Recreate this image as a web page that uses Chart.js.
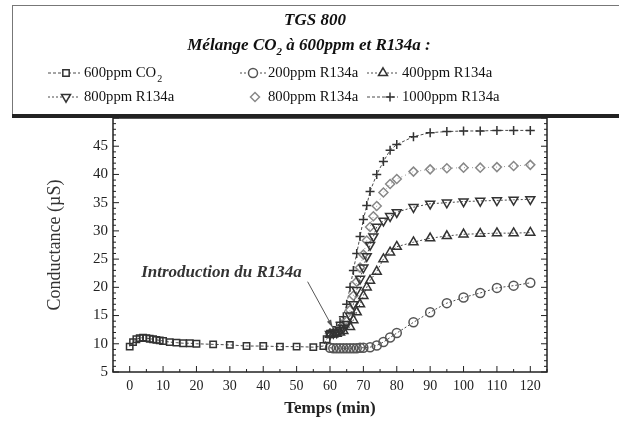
<!DOCTYPE html>
<html>
<head>
<meta charset="utf-8">
<script src="https://cdn.jsdelivr.net/npm/chart.js"></script>
<style>
  html, body { margin: 0; padding: 0; background: #fff; }
  #wrap { width: 619px; height: 423px; position: relative; }
</style>
</head>
<body>
<div id="wrap"><canvas id="tgsChart" width="619" height="423"></canvas></div>
<script>
// Temps (min) et conductance (µS)
const tCO2 = [0, 1, 2, 3, 4, 5, 6, 7, 8, 9, 10, 12, 14, 16, 18, 20, 25, 30, 35, 40, 45, 50, 55, 58, 59, 60];
const gCO2 = [9.5, 10.3, 10.8, 11.0, 11.1, 11.0, 10.9, 10.8, 10.7, 10.6, 10.5, 10.3, 10.2, 10.1, 10.1, 10.0, 9.9, 9.8, 9.6, 9.6, 9.5, 9.5, 9.4, 9.6, 10.8, 11.8];

const t200 = [60, 61, 62, 63, 64, 65, 66, 67, 68, 69, 70, 72, 74, 76, 78, 80, 85, 90, 95, 100, 105, 110, 115, 120];
const g200 = [9.3, 9.2, 9.2, 9.2, 9.2, 9.2, 9.2, 9.2, 9.2, 9.3, 9.3, 9.4, 9.7, 10.3, 11.1, 11.9, 13.8, 15.6, 17.2, 18.2, 19.0, 19.9, 20.3, 20.8];

const t400 = [60, 61, 62, 63, 64, 66, 67, 68, 69, 70, 71, 72, 74, 76, 78, 80, 85, 90, 95, 100, 105, 110, 115, 120];
const g400 = [11.6, 11.7, 11.8, 12.0, 12.3, 13.0, 14.2, 15.6, 17.0, 18.5, 20.0, 21.2, 22.8, 25.0, 26.2, 27.2, 28.0, 28.7, 29.1, 29.4, 29.5, 29.6, 29.6, 29.7];

const t800a = [60, 61, 62, 63, 64, 65, 66, 67, 68, 69, 70, 71, 72, 73, 74, 76, 78, 80, 85, 90, 95, 100, 105, 110, 115, 120];
const g800a = [11.7, 11.9, 12.0, 12.4, 12.8, 13.5, 15.0, 17.0, 19.5, 21.5, 23.5, 25.5, 27.5, 29.0, 30.7, 31.8, 32.6, 33.3, 34.2, 34.8, 35.0, 35.2, 35.3, 35.4, 35.5, 35.6];

const t800b = [60, 61, 62, 63, 64, 65, 66, 67, 68, 69, 70, 71, 72, 73, 74, 76, 78, 80, 85, 90, 95, 100, 105, 110, 115, 120];
const g800b = [11.8, 12.0, 12.2, 12.6, 13.0, 14.0, 16.0, 18.5, 21.0, 23.5, 25.8, 28.3, 30.7, 32.6, 34.4, 36.8, 38.3, 39.2, 40.5, 40.9, 41.1, 41.2, 41.2, 41.3, 41.5, 41.7];

const t1000 = [60, 61, 62, 63, 64, 65, 66, 67, 68, 69, 70, 71, 72, 74, 76, 78, 80, 85, 90, 95, 100, 105, 110, 115, 120];
const g1000 = [11.9, 12.3, 13.0, 13.8, 14.8, 17.0, 20.0, 23.0, 26.0, 29.0, 32.0, 34.5, 37.0, 40.0, 42.3, 44.3, 45.3, 46.7, 47.4, 47.6, 47.7, 47.7, 47.8, 47.8, 47.8];

const seriesLabels = ['600ppm CO₂', '200ppm R134a', '400ppm R134a', '800ppm R134a', '800ppm R134a', '1000ppm R134a'];
const xTicks = [0, 10, 20, 30, 40, 50, 60, 70, 80, 90, 100, 110, 120];
const yTicks = [5, 10, 15, 20, 25, 30, 35, 40, 45];

const ink = '#4a4a4a';
const serif = "'Liberation Serif', 'DejaVu Serif', serif";

function pts(t, g) {
    return t.map((x, i) => ({ x: x, y: g[i] }));
}

function serie(label, t, g, style, rot, dash) {
    return {
        label: label,
        data: pts(t, g),
        borderColor: ink,
        backgroundColor: 'rgba(0,0,0,0)',
        borderWidth: 1,
        borderDash: dash,
        pointStyle: style,
        pointRotation: rot,
        pointRadius: style === 'triangle' ? 5.2 : 4.5,
        pointBorderWidth: 1.5,
        pointBorderColor: '#333',
        showLine: true,
        tension: 0
    };
}

const datasets = [
    serie(seriesLabels[0], tCO2, gCO2, 'rect', 0, [3, 2]),
    serie(seriesLabels[1], t200, g200, 'circle', 0, [2, 2]),
    serie(seriesLabels[2], t400, g400, 'triangle', 0, [2, 2]),
    serie(seriesLabels[3], t800a, g800a, 'triangle', 180, [2, 2]),
    serie(seriesLabels[4], t800b, g800b, 'rectRot', 0, [1, 3]),
    serie(seriesLabels[5], t1000, g1000, 'cross', 0, [3, 2])
];
datasets[4].borderColor = '#999';
datasets[4].pointBorderColor = '#888';
datasets[1].pointBorderColor = '#555';

// cadre, graduations internes, boite de legende et annotation
const decor = {
    id: 'decor',
    beforeDatasetsDraw(chart) {
        const { ctx, chartArea: a, scales: { x, y } } = chart;
        ctx.save();
        ctx.strokeStyle = '#222';
        ctx.lineWidth = 1.5;
        ctx.strokeRect(a.left, a.top, a.right - a.left, a.bottom - a.top);
        ctx.lineWidth = 1;
        ctx.beginPath();
        for (let v = -5; v <= 125; v += 5) {
            const px = x.getPixelForValue(v);
            const len = v % 10 === 0 ? 6 : 3;
            ctx.moveTo(px, a.bottom);
            ctx.lineTo(px, a.bottom - len);
        }
        for (let v = 5; v <= 50; v += 1) {
            const py = y.getPixelForValue(v);
            const len = v % 5 === 0 ? 6 : 3;
            ctx.moveTo(a.left, py);
            ctx.lineTo(a.left + len, py);
            ctx.moveTo(a.right, py);
            ctx.lineTo(a.right - len, py);
        }
        ctx.stroke();
        ctx.restore();
    },
    afterDraw(chart) {
        const { ctx, scales: { x, y } } = chart;
        ctx.save();

        // annotation
        ctx.fillStyle = '#333';
        ctx.font = "italic bold 17px " + serif;
        ctx.textAlign = 'center';
        ctx.textBaseline = 'middle';
        ctx.fillText('Introduction du R134a', x.getPixelForValue(27.5), y.getPixelForValue(22.6));
        const x0 = x.getPixelForValue(53.3), y0 = y.getPixelForValue(21);
        const x1 = x.getPixelForValue(60.8), y1 = y.getPixelForValue(12.9);
        ctx.strokeStyle = '#555';
        ctx.lineWidth = 1;
        ctx.beginPath();
        ctx.moveTo(x0, y0);
        ctx.lineTo(x1, y1);
        ctx.stroke();
        const ang = Math.atan2(y1 - y0, x1 - x0);
        ctx.fillStyle = '#555';
        ctx.beginPath();
        ctx.moveTo(x1, y1);
        ctx.lineTo(x1 - 8 * Math.cos(ang - 0.3), y1 - 8 * Math.sin(ang - 0.3));
        ctx.lineTo(x1 - 8 * Math.cos(ang + 0.3), y1 - 8 * Math.sin(ang + 0.3));
        ctx.closePath();
        ctx.fill();

        // boite de legende
        ctx.fillStyle = '#fff';
        ctx.fillRect(12, 5, 607, 111);
        ctx.strokeStyle = '#777';
        ctx.lineWidth = 1;
        ctx.strokeRect(12.5, 5.5, 612, 110);
        ctx.fillStyle = '#222';
        ctx.fillRect(12, 114, 607, 4);

        ctx.fillStyle = '#111';
        ctx.textAlign = 'center';
        ctx.font = "italic bold 17px " + serif;
        ctx.fillText('TGS 800', 315, 21);

        // titre avec indice
        const parts = [['Mélange CO', 0], ['2', 1], [' à 600ppm et R134a :', 0]];
        let w = 0;
        parts.forEach(p => {
            ctx.font = (p[1] ? "italic bold 11px " : "italic bold 17px ") + serif;
            w += ctx.measureText(p[0]).width;
        });
        let cx = 309 - w / 2;
        ctx.textAlign = 'left';
        parts.forEach(p => {
            ctx.font = (p[1] ? "italic bold 11px " : "italic bold 17px ") + serif;
            ctx.fillText(p[0], cx, p[1] ? 52 : 46);
            cx += ctx.measureText(p[0]).width;
        });

        // entrees de legende : debut trait, fin trait, symbole, texte, ligne
        const pos = [
            [48, 80, 66, 84, 73], [240, 266, 253, 268, 73], [367, 398, 383, 402, 73],
            [48, 80, 66, 84, 97], [240, 266, 255, 268, 97], [367, 398, 390, 402, 97]
        ];
        chart.data.datasets.forEach((ds, i) => {
            const [l0, l1, mx, tx, ly] = pos[i];
            ctx.strokeStyle = ds.borderColor;
            ctx.lineWidth = 1;
            ctx.setLineDash(ds.borderDash);
            if (i !== 4) {
                ctx.beginPath();
                ctx.moveTo(l0, ly);
                ctx.lineTo(l1, ly);
                ctx.stroke();
            }
            ctx.setLineDash([]);
            ctx.fillStyle = '#fff';
            ctx.strokeStyle = ds.pointBorderColor;
            ctx.lineWidth = 1.5;
            Chart.helpers.drawPoint(ctx, {
                pointStyle: ds.pointStyle,
                radius: ds.pointRadius,
                rotation: ds.pointRotation,
                borderWidth: 1.5
            }, mx, ly);
            ctx.fillStyle = '#111';
            ctx.font = "14.7px " + serif;
            if (ds.label.indexOf('₂') >= 0) {
                const base = ds.label.replace('₂', '');
                ctx.fillText(base, tx, ly);
                const bw = ctx.measureText(base).width;
                ctx.font = "10px " + serif;
                ctx.fillText('2', tx + bw + 1, ly + 6);
            } else {
                ctx.fillText(ds.label, tx, ly);
            }
        });
        ctx.restore();
    }
};

const ctx = document.getElementById('tgsChart').getContext('2d');
const chart = new Chart(ctx, {
    type: 'line',
    data: { datasets: datasets },
    options: {
        responsive: false,
        animation: false,
        layout: { padding: { top: 118, right: 72, left: 40, bottom: 0 } },
        plugins: {
            legend: { display: false },
            tooltip: { enabled: false }
        },
        scales: {
            x: {
                type: 'linear',
                min: -5,
                max: 125,
                grid: { display: false, drawTicks: false },
                border: { display: false },
                afterBuildTicks: s => { s.ticks = xTicks.map(v => ({ value: v })); },
                afterFit: s => { s.height = 51; },
                ticks: {
                    color: '#222',
                    padding: 6,
                    maxRotation: 0,
                    font: { family: serif, size: 14 }
                },
                title: {
                    display: true,
                    text: 'Temps (min)',
                    color: '#222',
                    padding: { top: 4 },
                    font: { family: serif, size: 17, weight: 'bold' }
                }
            },
            y: {
                min: 5,
                max: 50,
                grid: { display: false, drawTicks: false },
                border: { display: false },
                afterBuildTicks: s => { s.ticks = yTicks.map(v => ({ value: v })); },
                afterFit: s => { s.width = 73; },
                ticks: {
                    color: '#222',
                    padding: 5,
                    font: { family: serif, size: 15 }
                },
                title: {
                    display: true,
                    text: 'Conductance (µS)',
                    color: '#333',
                    padding: { top: 4, bottom: 0 },
                    font: { family: serif, size: 18 }
                }
            }
        }
    },
    plugins: [decor]
});
</script>
</body>
</html>
